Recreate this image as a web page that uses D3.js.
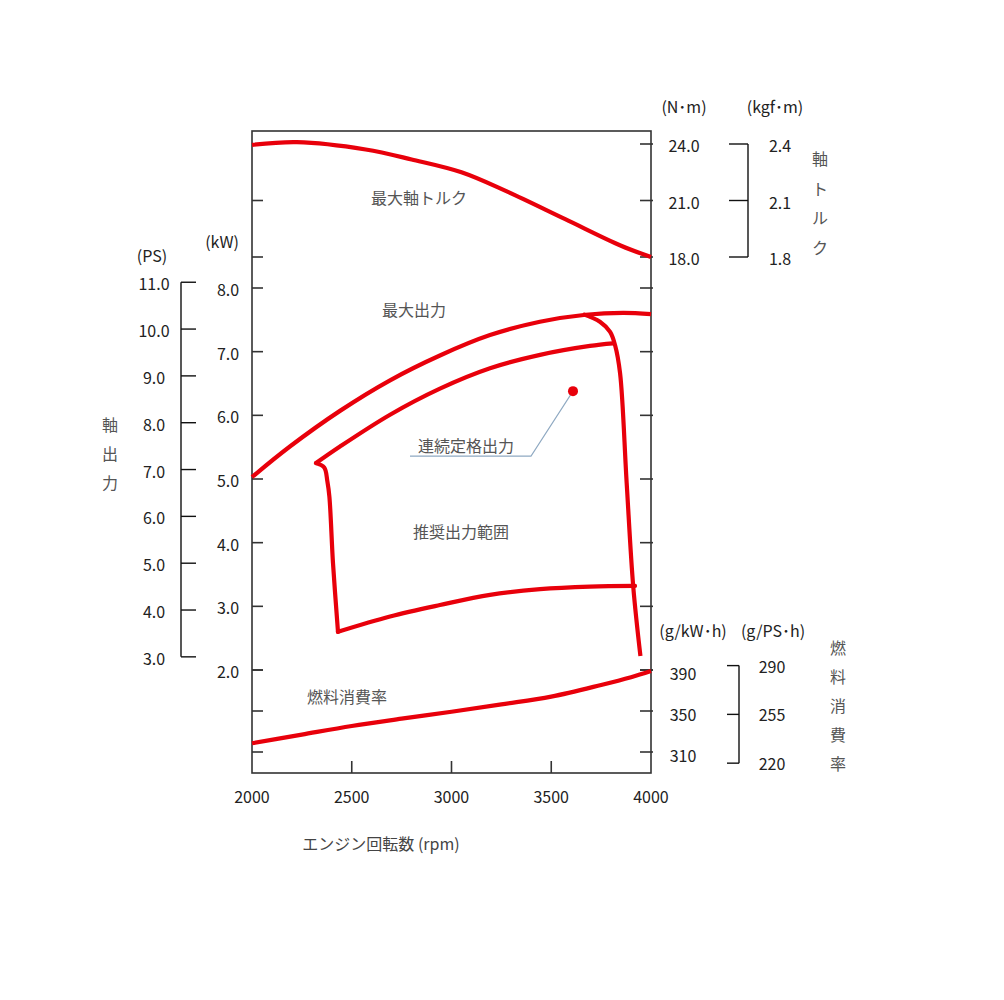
<!DOCTYPE html>
<html><head><meta charset="utf-8">
<script src="https://cdn.jsdelivr.net/npm/d3@7"></script>
<style>
html,body{margin:0;padding:0;background:#fff;}
svg text{font-family:"Noto Sans CJK JP","Noto Sans",sans-serif;}
</style></head>
<body><svg id="c" width="1004" height="1000"></svg>
<script>
// ---- data ----
const rpmTicks = [2000, 2500, 3000, 3500, 4000];
const torqueTicks = [18.0, 21.0, 24.0];          // N·m
const torqueKgfTicks = [1.8, 2.1, 2.4];          // kgf·m
const kwTicks = [2.0, 3.0, 4.0, 5.0, 6.0, 7.0, 8.0];
const psTicks = [3.0, 4.0, 5.0, 6.0, 7.0, 8.0, 9.0, 10.0, 11.0];
const fuelTicks = [310, 350, 390];               // g/kW·h
const fuelPsTicks = [220, 255, 290];             // g/PS·h

const torqueRpm = [2000, 2225, 2570, 2800, 3050, 3280, 3570, 3850, 4000];
const torqueVal = [23.95, 24.1, 23.71, 23.18, 22.5, 21.47, 20.01, 18.6, 18.0];

const maxPowerRpm = [2000, 2190, 2441, 2692, 2942, 3193, 3443, 3673, 3860, 4000];
const maxPowerVal = [5.03, 5.51, 6.07, 6.55, 6.94, 7.26, 7.47, 7.58, 7.61, 7.59];

const ratedTopRpm = [2321, 2441, 2692, 2942, 3193, 3444, 3694, 3809];
const ratedTopVal = [5.25, 5.51, 6.01, 6.42, 6.74, 6.95, 7.09, 7.13];

const rangeLeftRpm = [2321, 2362, 2378, 2388, 2406, 2431];
const rangeLeftVal = [5.25, 5.18, 4.96, 4.72, 3.68, 2.60];

const rangeBottomRpm = [2431, 2692, 2942, 3193, 3444, 3694, 3920];
const rangeBottomVal = [2.60, 2.84, 3.02, 3.18, 3.27, 3.31, 3.32];

const rangeRightRpm = [3659, 3744, 3795, 3820, 3845, 3878, 3911, 3947];
const rangeRightVal = [7.59, 7.47, 7.31, 7.10, 6.66, 4.94, 3.31, 2.22];

const ratedPoint = {rpm: 3609, kw: 6.38};

const fuelRpm = [2000, 2250, 2500, 2750, 3000, 3250, 3500, 3750, 3900, 4000];
const fuelVal = [318.5, 327, 335.4, 342.5, 349.3, 356.5, 364, 375.4, 383, 389];

// ---- layout ----
const svg = d3.select("#c");
const L = 252, R = 651, T = 131, B = 773;
const x = d3.scaleLinear().domain([2000, 4000]).range([L, R]);
const yT = d3.scaleLinear().domain([18, 24]).range([257, 144]);
const yK = d3.scaleLinear().domain([2, 8]).range([670, 288]);
const yF = d3.scaleLinear().domain([310, 390]).range([752, 670]);
const PS = 0.7355;

const axisCol = "#333", textCol = "#222", jpCol = "#555", red = "#e8000b";

// frame
svg.append("rect").attr("x", L).attr("y", T).attr("width", R - L).attr("height", B - T)
  .attr("fill", "none").attr("stroke", axisCol).attr("stroke-width", 1.6);

// inner ticks both sides
const tickLen = 11;
const allY = [...torqueTicks.map(yT), ...kwTicks.map(yK), ...fuelTicks.map(yF)];
allY.forEach(yy => {
  svg.append("line").attr("x1", L).attr("x2", L + tickLen).attr("y1", yy).attr("y2", yy)
    .attr("stroke", axisCol).attr("stroke-width", 1.6);
  svg.append("line").attr("x1", R - tickLen).attr("x2", R + 2).attr("y1", yy).attr("y2", yy)
    .attr("stroke", axisCol).attr("stroke-width", 1.6);
});
// x ticks (inside, from bottom)
rpmTicks.slice(1, -1).forEach(v => {
  svg.append("line").attr("x1", x(v)).attr("x2", x(v)).attr("y1", B).attr("y2", B - 12)
    .attr("stroke", axisCol).attr("stroke-width", 1.6);
});
const fs = 16;
function txt(tx, ty, s, opt = {}) {
  return svg.append("text").attr("x", tx).attr("y", ty).attr("text-anchor", opt.anchor || "middle")
    .attr("dominant-baseline", "central").attr("font-size", opt.size || fs)
    .attr("fill", opt.fill || textCol).text(s);
}
rpmTicks.forEach(v => txt(x(v), 796, String(v)));
txt(381, 843, "エンジン回転数 (rpm)", {fill: "#444"});

// torque right labels
torqueTicks.forEach(v => txt(684, yT(v) + 1, v.toFixed(1)));
txt(684, 106, "(N･m)");
txt(775, 106, "(kgf･m)");
// kgf·m bracket
const bxT = 748;
svg.append("line").attr("x1", bxT).attr("x2", bxT).attr("y1", yT(24)).attr("y2", yT(18)).attr("stroke", "#111").attr("stroke-width", 1.4);
torqueKgfTicks.forEach(v => {
  const yy = yT(v * 10);
  svg.append("line").attr("x1", bxT - 19).attr("x2", bxT).attr("y1", yy).attr("y2", yy).attr("stroke", "#111").attr("stroke-width", 1.4);
  txt(780, yy + 1, v.toFixed(1));
});
["軸", "ト", "ル", "ク"].forEach((c, i) => txt(820, 158 + i * 29.5, c, {fill: jpCol}));

// kW left labels
kwTicks.forEach(v => txt(228, yK(v) + 1, v.toFixed(1)));
txt(222, 241, "(kW)");
// PS bracket
const bxP = 181;
svg.append("line").attr("x1", bxP).attr("x2", bxP).attr("y1", yK(11 * PS)).attr("y2", yK(3 * PS)).attr("stroke", "#111").attr("stroke-width", 1.4);
psTicks.forEach(v => {
  const yy = yK(v * PS);
  svg.append("line").attr("x1", bxP).attr("x2", bxP + 15).attr("y1", yy).attr("y2", yy).attr("stroke", "#111").attr("stroke-width", 1.4);
  txt(154, yy + 1, v.toFixed(1));
});
txt(152, 255, "(PS)");
["軸", "出", "力"].forEach((c, i) => txt(110, 424 + i * 29, c, {fill: jpCol}));

// fuel labels
fuelTicks.forEach(v => txt(683, yF(v) + 3, String(v)));
txt(693, 630, "(g/kW･h)");
txt(773, 630, "(g/PS･h)");
const bxF = 739;
svg.append("line").attr("x1", bxF).attr("x2", bxF).attr("y1", yF(290 / PS)).attr("y2", yF(220 / PS)).attr("stroke", "#111").attr("stroke-width", 1.4);
fuelPsTicks.forEach(v => {
  const yy = yF(v / PS);
  svg.append("line").attr("x1", bxF - 12).attr("x2", bxF).attr("y1", yy).attr("y2", yy).attr("stroke", "#111").attr("stroke-width", 1.4);
  txt(772, yy, String(v));
});
["燃", "料", "消", "費", "率"].forEach((c, i) => txt(838, 647 + i * 29, c, {fill: jpCol}));

// curves
function curve(rpms, vals, ys, cap = "round") {
  const pts = rpms.map((r, i) => [x(r), ys(vals[i])]);
  svg.append("path").attr("d", d3.line().curve(d3.curveCatmullRom.alpha(0.5))(pts))
    .attr("fill", "none").attr("stroke", red).attr("stroke-width", 4.2)
    .attr("stroke-linecap", cap).attr("stroke-linejoin", "round");
}
curve(torqueRpm, torqueVal, yT, "butt");
curve(maxPowerRpm, maxPowerVal, yK, "butt");
curve(ratedTopRpm, ratedTopVal, yK);
curve(rangeLeftRpm, rangeLeftVal, yK);
curve(rangeBottomRpm, rangeBottomVal, yK);
curve(rangeRightRpm, rangeRightVal, yK, "butt");
curve(fuelRpm, fuelVal, yF, "butt");

// leader line & dot
const dx = x(ratedPoint.rpm), dy = yK(ratedPoint.kw);
svg.append("polyline").attr("points", `${dx},${dy} ${dx - 42},${dy + 65} ${dx - 163},${dy + 65}`)
  .attr("fill", "none").attr("stroke", "#8fa9c2").attr("stroke-width", 1.1);
svg.append("circle").attr("cx", dx).attr("cy", dy).attr("r", 5).attr("fill", red);

// in-plot labels
txt(419, 197, "最大軸トルク", {fill: jpCol});
txt(414, 309, "最大出力", {fill: jpCol});
txt(466, 445, "連続定格出力", {fill: jpCol});
txt(461, 531, "推奨出力範囲", {fill: jpCol});
txt(347, 696, "燃料消費率", {fill: jpCol});
</script></body></html>
